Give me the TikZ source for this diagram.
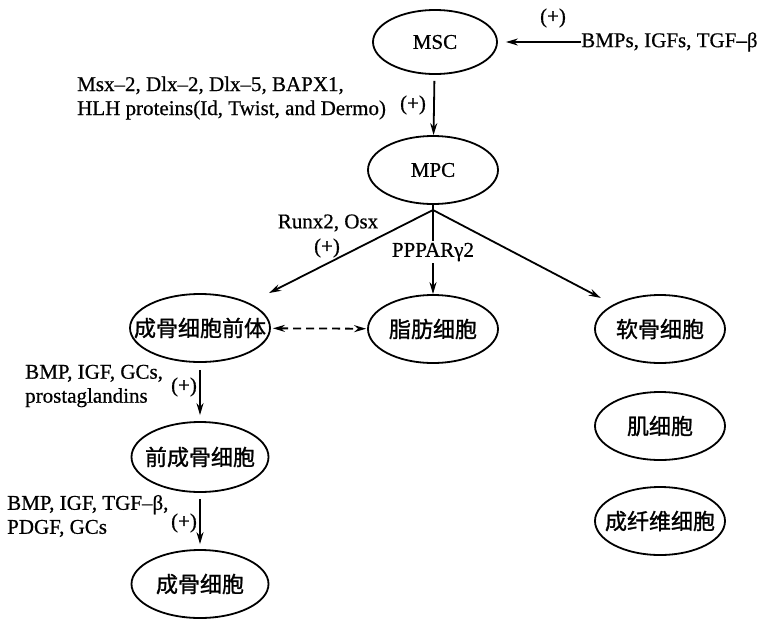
\documentclass[tikz,border=0pt]{standalone}
\usepackage{fontspec}
\setmainfont{Liberation Serif}[FakeBold=0.6]
\newfontfamily\cjk{Noto Sans CJK SC}[FakeBold=1.2]
\usetikzlibrary{shapes.geometric}
\usetikzlibrary{arrows.meta}

\begin{document}
\begin{tikzpicture}[
        x = 1pt,
        y = -1pt,
        cell/.style={
          ellipse,
          draw,
          line width = 1.8pt,
          minimum width = 130pt,
          minimum height = 68pt,
          inner sep = 0pt,
        },
        zh/.style={
          font = \cjk\fontsize{22}{26}\selectfont,
        },
        en/.style={
          font = \fontsize{21}{24}\selectfont,
        },
        factor/.style={
          en,
          align = left,
          inner sep = 0pt,
        },
        plus/.style={
          en,
          inner sep = 0pt,
        },
        link/.style={
          -{Stealth[length=12pt, width=7pt]},
          line width = 1.8pt,
        },
        ]
        \useasboundingbox (0,0) rectangle (760,619);

        \node [cell, en, minimum width=124pt, minimum height=64pt] (msc) at (435,42) {MSC};
        \node [cell, en] (mpc) at (433,170) {MPC};
        \node [cell, zh, minimum width=140pt] (preosteo) at (200,328) {\makebox[0pt]{成骨细胞前体}};
        \node [cell, zh] (adipo) at (433,329) {\makebox[0pt]{脂肪细胞}};
        \node [cell, zh] (chondro) at (660,329) {\makebox[0pt]{软骨细胞}};
        \node [cell, zh] (myo) at (660,426) {\makebox[0pt]{肌细胞}};
        \node [cell, zh] (fibro) at (660,521) {\makebox[0pt]{成纤维细胞}};
        \node [cell, zh, minimum width=137pt, minimum height=70pt] (preob) at (200,457) {\makebox[0pt]{前成骨细胞}};
        \node [cell, zh, minimum width=137pt] (osteo) at (200,584) {\makebox[0pt]{成骨细胞}};

        \node [factor, anchor=west] (bmps) at (581,42) {BMPs, IGFs, TGF–β};
        \node [factor, anchor=west] (msx) at (77,98) {Msx–2, Dlx–2, Dlx–5, BAPX1,\\HLH proteins(Id, Twist, and Dermo)};
        \node [factor] (runx) at (328,223) {Runx2, Osx};
        \node [factor, anchor=west] (bmpgc) at (25,386) {BMP, IGF, GCs,\\prostaglandins};
        \node [factor, anchor=west] (bmptgf) at (7,516) {BMP, IGF, TGF–β,\\PDGF, GCs};

        \node [plus] (p1) at (553,18) {(+)};
        \node [plus] (p2) at (413,105) {(+)};
        \node [plus] (p3) at (327,248) {(+)};
        \node [plus] (p4) at (184,387) {(+)};
        \node [plus] (p5) at (184,523) {(+)};

        \coordinate (split) at (433,210);

        \draw [link, shorten >=8pt] (bmps) -- (msc);
        \draw [link, shorten <=6pt] (msc) -- (mpc);
        \draw [line width=1.8pt] (mpc.south) -- (split);
        \draw [link, shorten >=22pt] (split) -- (preosteo);
        \draw [link, shorten >=14pt] (split) -- (chondro);
        \draw [link] (split) -- node [en, fill=white, inner sep=2pt] (pparg) {PPPARγ2} (adipo);
        \draw [{Stealth[length=12pt, width=7pt]}-{Stealth[length=12pt, width=7pt]}, line width=1.8pt, dash pattern=on 8pt off 5pt, shorten <=2pt, shorten >=1pt] (preosteo) -- (adipo);
        \draw [link, shorten <=7pt, shorten >=6pt] (preosteo) -- (preob);
        \draw [link, shorten <=6pt, shorten >=5pt] (preob) -- (osteo);
      \end{tikzpicture}
\end{document}
